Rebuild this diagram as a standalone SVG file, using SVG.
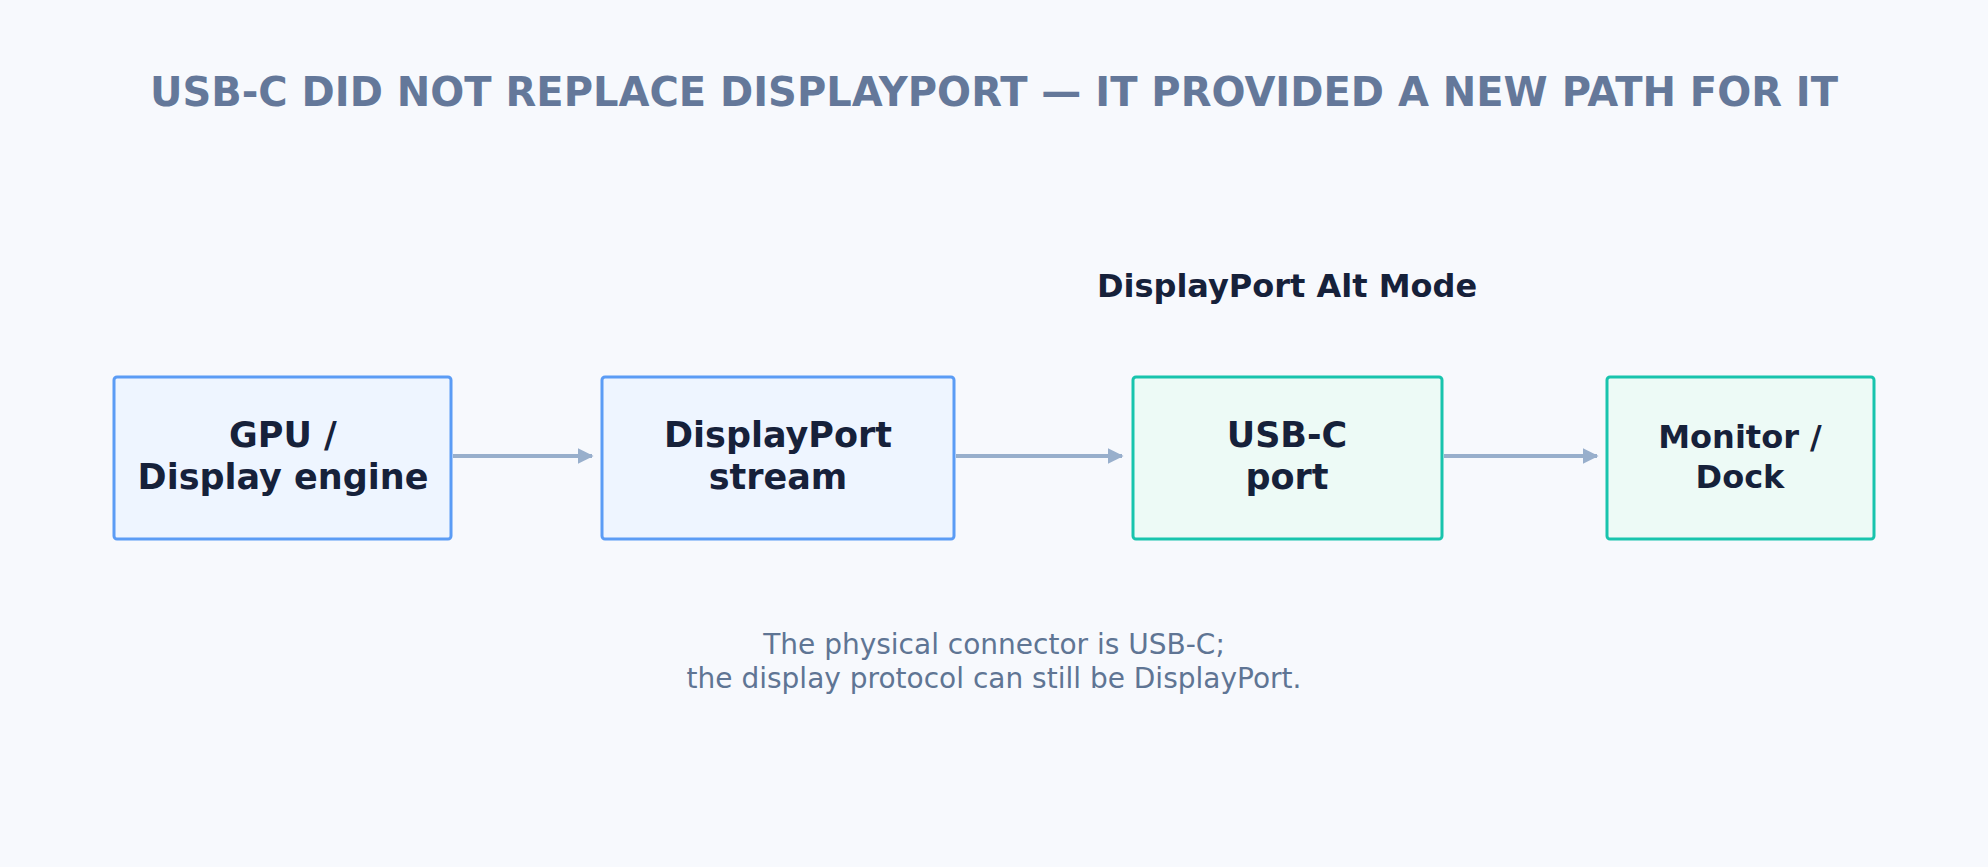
<svg xmlns="http://www.w3.org/2000/svg" width="1988" height="867" viewBox="0 0 1988 867">
<defs>
<style>
.t{font-family:"DejaVu Sans",sans-serif;text-anchor:middle}
.nb{font-weight:bold;fill:#16213a}
.blue{fill:#eef5ff;stroke:#5b9cf5;stroke-width:3}
.teal{fill:#edfaf6;stroke:#18c4ad;stroke-width:3}
.c{stroke:#98afcc;stroke-width:4;fill:none}
</style>
<marker id="a" viewBox="0 0 10 10" refX="9" refY="5" markerWidth="4" markerHeight="4" orient="auto"><path d="M0,0L10,5L0,10z" fill="#98afcc"/></marker>
</defs>
<rect width="1988" height="867" fill="#f7f9fd"/>
<text class="t" x="994" y="106" font-size="40" font-weight="bold" fill="#64789a">USB-C DID NOT REPLACE DISPLAYPORT — IT PROVIDED A NEW PATH FOR IT</text>
<text class="t nb" x="1287" y="297" font-size="32">DisplayPort Alt Mode</text>
<g id="connectors">
<line class="c" x1="453" y1="456" x2="592" y2="456" marker-end="url(#a)"/>
<line class="c" x1="956" y1="456" x2="1122" y2="456" marker-end="url(#a)"/>
<line class="c" x1="1444" y1="456" x2="1597" y2="456" marker-end="url(#a)"/>
</g>
<g id="gpu"><rect class="blue" x="114" y="377" width="337" height="162" rx="3"/>
<text class="t nb" font-size="35" x="283" y="447">GPU /</text><text class="t nb" font-size="35" x="283" y="489">Display engine</text></g>
<g id="dp"><rect class="blue" x="602" y="377" width="352" height="162" rx="3"/>
<text class="t nb" font-size="35" x="778" y="447">DisplayPort</text><text class="t nb" font-size="35" x="778" y="489">stream</text></g>
<g id="usbc"><rect class="teal" x="1133" y="377" width="309" height="162" rx="3"/>
<text class="t nb" font-size="35" x="1287" y="447">USB-C</text><text class="t nb" font-size="35" x="1287" y="489">port</text></g>
<g id="monitor"><rect class="teal" x="1607" y="377" width="267" height="162" rx="3"/>
<text class="t nb" font-size="32" x="1740" y="448">Monitor /</text><text class="t nb" font-size="32" x="1740" y="488">Dock</text></g>
<text class="t" x="994" y="654" font-size="28" fill="#5f7594">The physical connector is USB-C;</text>
<text class="t" x="994" y="688" font-size="28" fill="#5f7594">the display protocol can still be DisplayPort.</text>
</svg>
